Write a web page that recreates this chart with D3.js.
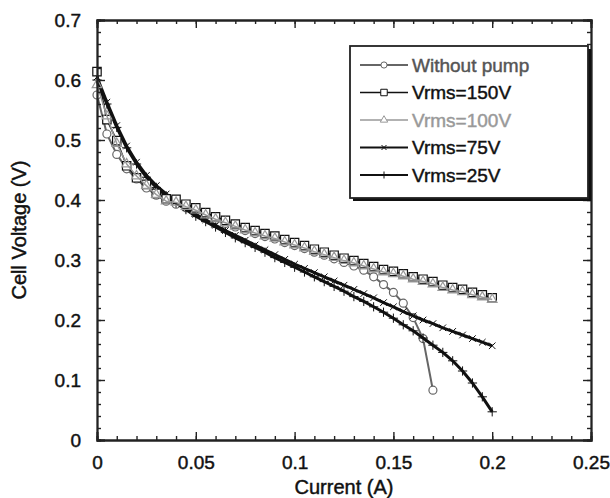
<!DOCTYPE html>
<html>
<head>
<meta charset="utf-8">
<script src="https://cdn.jsdelivr.net/npm/d3@7"></script>
<style>
	body { margin: 0; background: #fff; }
	svg { display: block; font-family: "Liberation Sans", Arial, sans-serif; }
	text { stroke-width: 0.45px; }
</style>
</head>
<body>
<svg id="chart"></svg>
<script>
// current values (A) shared by every series
let current = [0,0.005,0.01,0.015,0.02,0.025,0.03,0.035,0.04,0.045,0.05,0.055,0.06,0.065,0.07,0.075,0.08,0.085,0.09,0.095,0.1,0.105,0.11,0.115,0.12,0.125,0.13,0.135,0.14,0.145,0.15,0.155,0.16,0.165,0.17,0.175,0.18,0.185,0.19,0.195,0.2];

// cell voltage (V) per series
let noPump = [0.575,0.510,0.476,0.452,0.435,0.420,0.408,0.398,0.393,0.387,0.382,0.374,0.367,0.361,0.355,0.349,0.344,0.339,0.335,0.329,0.324,0.319,0.313,0.308,0.302,0.296,0.290,0.283,0.272,0.259,0.246,0.228,0.204,0.169,0.083];
let v150 = [0.614,0.534,0.499,0.457,0.437,0.426,0.411,0.402,0.401,0.393,0.387,0.379,0.372,0.366,0.360,0.354,0.349,0.344,0.340,0.334,0.329,0.324,0.318,0.313,0.308,0.303,0.299,0.294,0.289,0.284,0.281,0.277,0.272,0.268,0.264,0.258,0.254,0.251,0.246,0.242,0.237];
let v100 = [0.592,0.540,0.494,0.460,0.440,0.424,0.409,0.398,0.396,0.389,0.383,0.375,0.368,0.362,0.356,0.350,0.345,0.340,0.336,0.330,0.325,0.320,0.314,0.309,0.304,0.299,0.295,0.290,0.285,0.280,0.277,0.273,0.268,0.264,0.260,0.254,0.250,0.247,0.242,0.238,0.234];
let v75 = [0.605,0.563,0.524,0.490,0.463,0.441,0.424,0.410,0.398,0.387,0.376,0.367,0.358,0.349,0.341,0.333,0.325,0.317,0.309,0.301,0.293,0.286,0.279,0.272,0.265,0.258,0.251,0.244,0.237,0.229,0.222,0.214,0.207,0.200,0.194,0.187,0.181,0.175,0.169,0.163,0.157];
let v25 = [0.600,0.560,0.521,0.487,0.460,0.438,0.421,0.407,0.395,0.384,0.373,0.364,0.355,0.346,0.337,0.329,0.321,0.313,0.304,0.296,0.288,0.280,0.272,0.264,0.256,0.248,0.239,0.231,0.222,0.213,0.203,0.192,0.182,0.170,0.158,0.146,0.132,0.115,0.095,0.072,0.047];

let seriesNames = ['Without pump', 'Vrms=150V', 'Vrms=100V', 'Vrms=75V', 'Vrms=25V'];

let xTicks = [0, 0.05, 0.1, 0.15, 0.2, 0.25];
let yTicks = [0, 0.1, 0.2, 0.3, 0.4, 0.5, 0.6, 0.7];

//pre-defined variables to use
let width = 610;
let height = 498;
let plotLeft = 97, plotRight = 591, plotTop = 20, plotBottom = 440;

let x = d3.scaleLinear().domain([0, 0.25]).range([plotLeft, plotRight]);
let y = d3.scaleLinear().domain([0, 0.7]).range([plotBottom, plotTop]);

let svg = d3.select('#chart')
	.attr('width', width)
	.attr('height', height);

// series styles, drawn in this order
let series = [
	{ name: seriesNames[0], values: noPump, color: '#666', width: 2, symbol: d3.symbolCircle, size: 50, fill: '#fff', mStroke: 1.2 },
	{ name: seriesNames[4], values: v25, color: '#111', width: 3, symbol: d3.symbolPlus, size: 30, fill: 'none', mStroke: 1 },
	{ name: seriesNames[3], values: v75, color: '#111', width: 3, symbol: d3.symbolTimes, size: 30, fill: 'none', mStroke: 1 },
	{ name: seriesNames[1], values: v150, color: '#111', width: 1.5, symbol: d3.symbolSquare, size: 70, fill: '#fff', mStroke: 1.2 },
	{ name: seriesNames[2], values: v100, color: '#999', width: 1.5, symbol: d3.symbolTriangle, size: 40, fill: 'none', mStroke: 1.2 }
];

let line = d3.line()
	.x(function(d) { return x(d[0]); })
	.y(function(d) { return y(d[1]); });

let plot = svg.append('g').attr('class', 'plot');

series.forEach(function(s) {
	let pts = s.values.map(function(v, i) { return [current[i], v]; });
	let g = plot.append('g');
	g.append('path')
		.datum(pts)
		.attr('d', line)
		.attr('fill', 'none')
		.attr('stroke', s.color)
		.attr('stroke-width', s.width)
		.attr('stroke-linejoin', 'round');
	g.selectAll('path.mark')
		.data(pts)
		.enter()
		.append('path')
		.attr('class', 'mark')
		.attr('d', d3.symbol().type(s.symbol).size(s.size))
		.attr('transform', function(d) { return 'translate(' + x(d[0]) + ',' + y(d[1]) + ')'; })
		.attr('fill', s.fill)
		.attr('stroke', s.color)
		.attr('stroke-width', s.mStroke);
});

// axes with inward ticks on all four sides
let minorX = d3.range(0, 0.2501, 0.01);
let minorY = d3.range(0, 0.7001, 0.02);
let fmt = function(d) { return String(d); };

function styleAxis(g) {
	g.select('.domain').attr('stroke', '#222').attr('stroke-width', 1.8);
	g.selectAll('.tick line').attr('stroke', '#222').attr('stroke-width', 1.4);
	g.selectAll('.tick text').attr('fill', '#111').attr('stroke', '#111').style('font-size', '19px');
}

svg.append('g').attr('transform', 'translate(0,' + plotBottom + ')')
	.call(d3.axisBottom(x).tickValues(minorX).tickSize(-4).tickFormat(''))
	.call(styleAxis);
svg.append('g').attr('transform', 'translate(0,' + plotBottom + ')')
	.call(d3.axisBottom(x).tickValues(xTicks).tickSize(-8).tickPadding(16).tickFormat(fmt))
	.call(styleAxis);
svg.append('g').attr('transform', 'translate(0,' + plotTop + ')')
	.call(d3.axisTop(x).tickValues(minorX).tickSize(-4).tickFormat(''))
	.call(styleAxis);
svg.append('g').attr('transform', 'translate(0,' + plotTop + ')')
	.call(d3.axisTop(x).tickValues(xTicks).tickSize(-8).tickFormat(''))
	.call(styleAxis);

svg.append('g').attr('transform', 'translate(' + plotLeft + ',0)')
	.call(d3.axisLeft(y).tickValues(minorY).tickSize(-4).tickFormat(''))
	.call(styleAxis);
svg.append('g').attr('transform', 'translate(' + plotLeft + ',0)')
	.call(d3.axisLeft(y).tickValues(yTicks).tickSize(-8).tickPadding(16).tickFormat(fmt))
	.call(styleAxis);
svg.append('g').attr('transform', 'translate(' + plotRight + ',0)')
	.call(d3.axisRight(y).tickValues(minorY).tickSize(-4).tickFormat(''))
	.call(styleAxis);
svg.append('g').attr('transform', 'translate(' + plotRight + ',0)')
	.call(d3.axisRight(y).tickValues(yTicks).tickSize(-8).tickFormat(''))
	.call(styleAxis);

// axis titles
svg.append('text')
	.attr('x', (plotLeft + plotRight) / 2)
	.attr('y', 494)
	.attr('text-anchor', 'middle')
	.style('font-size', '20px')
	.attr('fill', '#111').attr('stroke', '#111')
	.text('Current (A)');

svg.append('text')
	.attr('transform', 'translate(26,' + (plotTop + plotBottom) / 2 + ') rotate(-90)')
	.attr('text-anchor', 'middle')
	.style('font-size', '20px')
	.attr('fill', '#111').attr('stroke', '#111')
	.text('Cell Voltage (V)');

// legend
let legend = svg.append('g').attr('class', 'legend');
legend.append('rect')
	.attr('x', 353).attr('y', 49).attr('width', 238).attr('height', 152)
	.attr('fill', '#111');
legend.append('rect')
	.attr('x', 350).attr('y', 46).attr('width', 238).attr('height', 152)
	.attr('fill', '#fff').attr('stroke', '#222').attr('stroke-width', 1.8);

let legendOrder = [series[0], series[3], series[4], series[2], series[1]];
let textColors = ['#555', '#111', '#999', '#111', '#111'];

let rows = legend.selectAll('g.row')
	.data(legendOrder)
	.enter()
	.append('g')
	.attr('class', 'row')
	.attr('transform', function(d, i) { return 'translate(0,' + (65 + i * 27.5) + ')'; });

rows.append('line')
	.attr('x1', 360).attr('x2', 408)
	.attr('stroke', function(d) { return d.color; })
	.attr('stroke-width', function(d) { return Math.min(d.width, 2); });
rows.append('path')
	.attr('d', function(d) { return d3.symbol().type(d.symbol).size(d.size * 0.6)(); })
	.attr('transform', 'translate(384,0)')
	.attr('fill', function(d) { return d.fill === 'none' ? '#fff' : d.fill; })
	.attr('stroke', function(d) { return d.color; })
	.attr('stroke-width', 1);
rows.append('text')
	.attr('x', 412)
	.attr('dy', '0.35em')
	.style('font-size', '19px')
	.attr('fill', function(d, i) { return textColors[i]; })
	.attr('stroke', function(d, i) { return textColors[i]; })
	.text(function(d) { return d.name; });
</script>
</body>
</html>
